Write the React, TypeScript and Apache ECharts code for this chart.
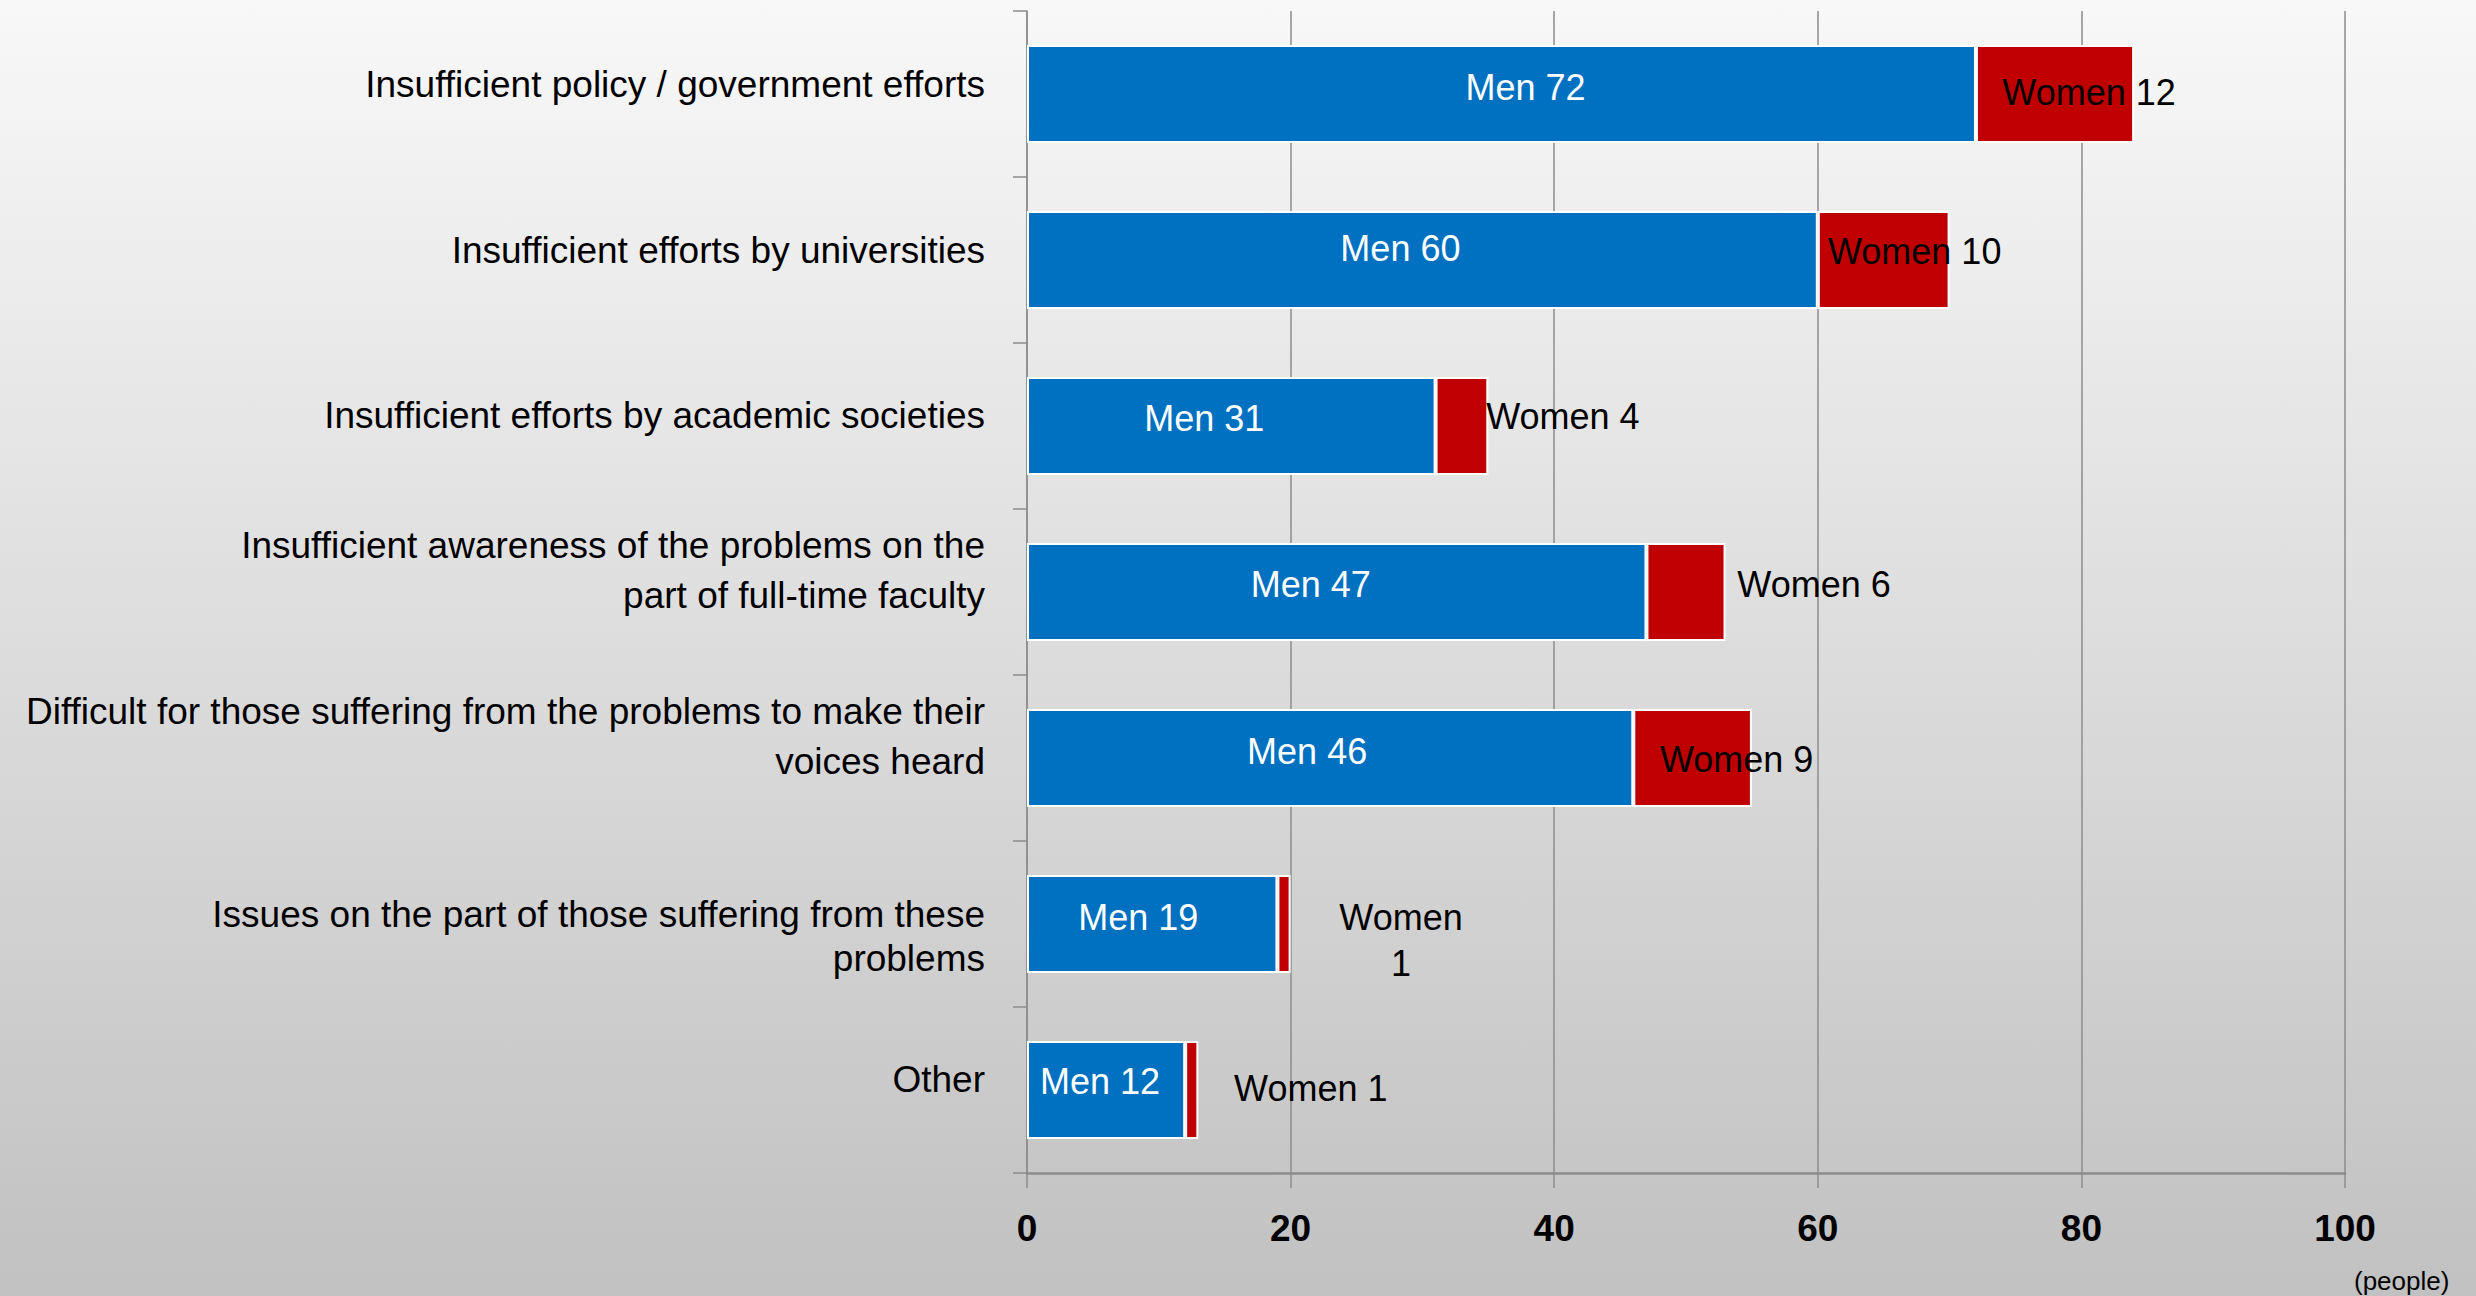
import React, { useEffect, useRef } from "react";
import * as echarts from "echarts";

const categories = [
  "Insufficient policy / government efforts",
  "Insufficient efforts by universities",
  "Insufficient efforts by academic societies",
  "Insufficient awareness of the problems on the\npart of full-time faculty",
  "Difficult for those suffering from the problems to make their\nvoices heard",
  "Issues on the part of those suffering from these\nproblems",
  "Other",
];
const menValues = [72, 60, 31, 47, 46, 19, 12];
const womenValues = [12, 10, 4, 6, 9, 1, 1];
const axisMin = 0;
const axisMax = 100;
const axisStep = 20;
const unitLabel = "(people)";

// styling (label placement tweaks, not data)
const menLabelOffsets = [
  [24, -7], [-22, -12], [-27, -8], [-26, -8], [-23, -7], [-14, -7], [-6, -9],
];
const womenLabelOffsets = [
  [34, -2], [31, -9], [101, -10], [128, -8], [44, 1], [117, 16], [119, -2],
];
const womenLabelBreak = [false, false, false, false, false, true, false];
// per-category: line height, spacer above, spacer below (shifts the label block)
const catLineHeights = [40, 40, 40, 50, 50, 44, 40];
const catSpaceTop = [0, 0, 0, 0, 0, 24, 0];
const catSpaceBottom = [20, 20, 22, 44, 44, 0, 22];

const FONT = '"Liberation Sans", Arial, sans-serif';
const BLUE = "#0070C0";
const RED = "#C00000";
const GRAY = "#8c8c8c";

function buildRich() {
  const rich: Record<string, any> = {};
  const hs = new Set<number>([...catLineHeights]);
  hs.forEach((h) => {
    rich["t" + h] = { fontSize: 37, lineHeight: h, color: "#000", fontFamily: FONT, align: "right" };
  });
  const sps = new Set<number>([...catSpaceTop, ...catSpaceBottom].filter((v) => v > 0));
  sps.forEach((h) => {
    rich["s" + h] = { fontSize: 2, lineHeight: h, color: "rgba(0,0,0,0)", align: "right" };
  });
  return rich;
}

function formatCategory(value: string, index: number) {
  const h = catLineHeights[index];
  const lines = value.split("\n").map((l) => `{t${h}|${l}}`);
  if (catSpaceTop[index] > 0) lines.unshift(`{s${catSpaceTop[index]}| }`);
  if (catSpaceBottom[index] > 0) lines.push(`{s${catSpaceBottom[index]}| }`);
  return lines.join("\n");
}

export default function App() {
  const ref = useRef<HTMLDivElement>(null);
  useEffect(() => {
    if (!ref.current) return;
    const chart = echarts.init(ref.current, null, { renderer: "svg" });
    chart.setOption({
      animation: false,
      backgroundColor: {
        type: "linear",
        x: 0,
        y: 0,
        x2: 0,
        y2: 1,
        colorStops: [
          { offset: 0, color: "#f8f8f8" },
          { offset: 1, color: "#c1c1c1" },
        ],
      },
      textStyle: { fontFamily: FONT },
      grid: { left: 1027, right: 131, top: 11, bottom: 123, containLabel: false },
      xAxis: {
        type: "value",
        min: axisMin,
        max: axisMax,
        interval: axisStep,
        axisLine: { show: true, lineStyle: { color: GRAY, width: 2.5 } },
        axisTick: { show: true, length: 15, lineStyle: { color: GRAY, width: 1.5 } },
        splitLine: { show: true, lineStyle: { color: GRAY, width: 1.5 } },
        axisLabel: {
          margin: 37,
          fontSize: 37,
          fontWeight: "bold",
          color: "#000",
          fontFamily: FONT,
        },
      },
      yAxis: {
        type: "category",
        inverse: true,
        data: categories,
        axisLine: { show: true, lineStyle: { color: GRAY, width: 1.5 } },
        axisTick: { show: true, length: 14, alignWithLabel: false, interval: 0, lineStyle: { color: GRAY, width: 1.5 } },
        splitLine: { show: false },
        axisLabel: {
          interval: 0,
          margin: 42,
          fontSize: 37,
          color: "#000",
          fontFamily: FONT,
          align: "right",
          formatter: formatCategory,
          rich: buildRich(),
        },
      },
      series: [
        {
          name: "Men",
          type: "bar",
          stack: "total",
          barWidth: 98,
          itemStyle: { color: BLUE, borderColor: "#ffffff", borderWidth: 2 },
          data: menValues.map((v, i) => ({
            value: v,
            label: { offset: menLabelOffsets[i] },
          })),
          label: {
            show: true,
            position: "inside",
            color: "#fff",
            fontSize: 36,
            fontFamily: FONT,
            formatter: (p: any) => `Men ${p.value}`,
          },
        },
        {
          name: "Women",
          type: "bar",
          stack: "total",
          barWidth: 98,
          itemStyle: { color: RED, borderColor: "#ffffff", borderWidth: 2 },
          data: womenValues.map((v, i) => ({
            value: v,
            label: { offset: womenLabelOffsets[i] },
          })),
          label: {
            show: true,
            position: "inside",
            color: "#000",
            fontSize: 36,
            lineHeight: 46,
            fontFamily: FONT,
            formatter: (p: any) =>
              womenLabelBreak[p.dataIndex] ? `Women\n${p.value}` : `Women ${p.value}`,
          },
        },
      ],
      graphic: [
        {
          type: "text",
          left: 2354,
          top: 1268,
          style: { text: unitLabel, font: `26px ${FONT}`, fill: "#000" },
        },
      ],
    });
    return () => chart.dispose();
  }, []);
  return (
    <div
      ref={ref}
      style={{ position: "absolute", left: 0, top: 0, width: 2476, height: 1296 }}
    />
  );
}
